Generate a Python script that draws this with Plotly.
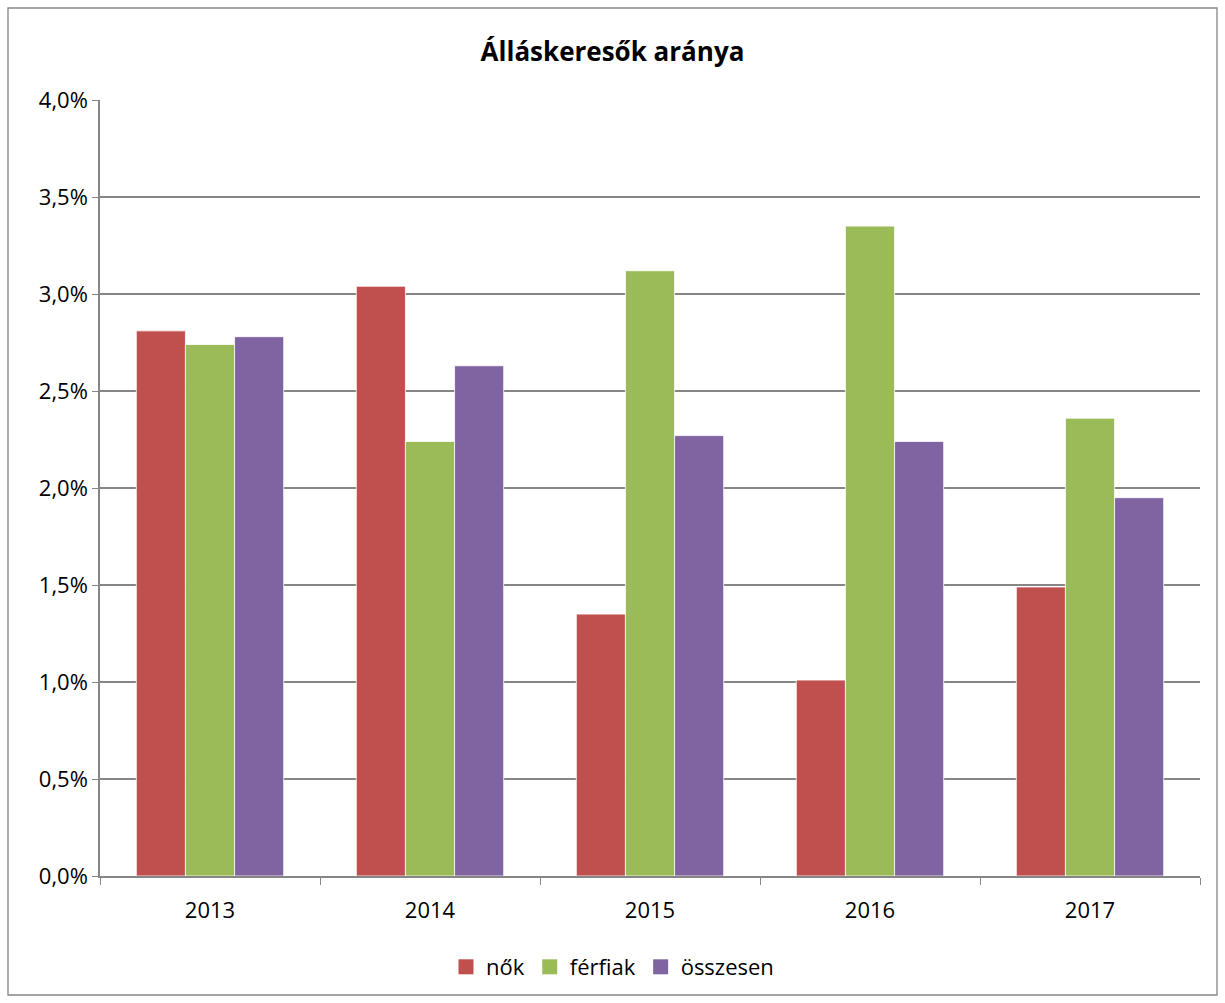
import plotly.graph_objects as go

years = ["2013", "2014", "2015", "2016", "2017"]
nok = [2.81, 3.04, 1.35, 1.01, 1.49]
ferfiak = [2.74, 2.24, 3.12, 3.35, 2.36]
osszesen = [2.78, 2.63, 2.27, 2.24, 1.95]

series = [("nők", nok, "#C0504D"), ("férfiak", ferfiak, "#9BBB59"), ("összesen", osszesen, "#8064A2")]

fig = go.Figure()
for name, vals, col in series:
    fig.add_trace(go.Bar(x=years, y=[v / 100 for v in vals], name=name, showlegend=False,
                         marker=dict(color=col, line=dict(color="white", width=0.8))))
# legend entries with larger square swatches
for name, vals, col in series:
    fig.add_trace(go.Scatter(x=[None], y=[None], mode="markers", name=name,
                             marker=dict(symbol="square", size=15, color=col)))

W, H = 1225, 1003
L, R, T, B = 100, 25, 100, 127
pw, ph = W - L - R, H - T - B

def px(x):
    return (x - L) / pw

def py(y):
    return (H - B - y) / ph

fig.add_shape(type="rect", xref="paper", yref="paper",
              x0=px(8), x1=px(1217), y0=py(995), y1=py(8),
              line=dict(color="#868686", width=1.3), fillcolor="rgba(0,0,0,0)", layer="below")

fig.update_layout(
    width=W, height=H,
    margin=dict(l=L, r=R, t=T, b=B),
    paper_bgcolor="white", plot_bgcolor="white",
    separators=", ",
    font=dict(family="Open Sans, Liberation Sans, sans-serif", size=22, color="black"),
    title=dict(text="<b>Álláskeresők aránya</b>", x=0.5, xref="container", xanchor="center",
               y=1 - 52 / H, yanchor="middle", font=dict(size=26)),
    barmode="group", bargap=0.33, bargroupgap=0,
    legend=dict(orientation="h", x=0.5, xref="container", xanchor="center",
                y=1 - 967 / H, yref="container", yanchor="middle",
                font=dict(size=22), itemwidth=30, traceorder="normal"),
    xaxis=dict(type="category", tickson="boundaries", ticks="outside", ticklen=7,
               tickcolor="#868686", showline=True, linecolor="#868686", linewidth=1.5,
               showgrid=False, tickfont=dict(size=22), ticklabelstandoff=14),
    yaxis=dict(range=[0, 0.04], dtick=0.005, tickformat=".1%", ticks="outside", ticklen=6,
               tickcolor="#868686", showline=True, linecolor="#868686", linewidth=1.5,
               showgrid=True, gridcolor="#868686", gridwidth=1.5, zeroline=False,
               tickfont=dict(size=22)),
)

fig.write_html("out.html", config={"displayModeBar": False},
               post_script="document.body.style.margin='0';")
